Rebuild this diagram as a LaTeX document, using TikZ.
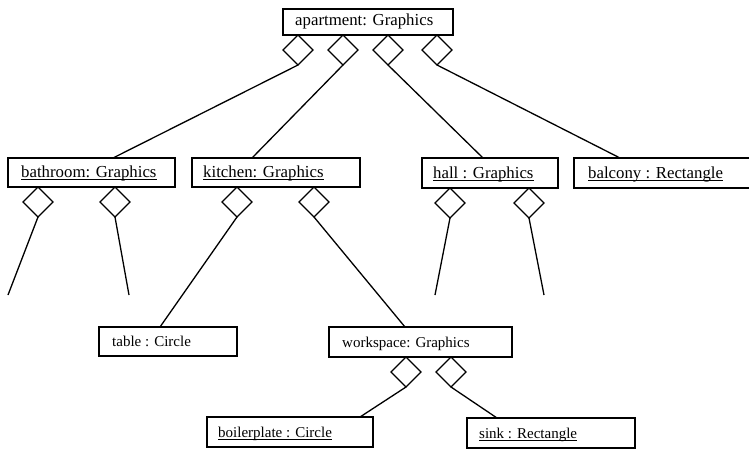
\documentclass[tikz,border=0pt]{standalone}
\usepackage{fontspec}
\setmainfont{Liberation Serif}
\usetikzlibrary{shapes.geometric}
\newcommand{\myul}[1]{\leavevmode\setbox0=\hbox{#1}\rlap{\copy0}\raisebox{-3.4pt}{\rule{\wd0}{1.2pt}}}
\tikzset{
  box/.style={draw, line width=1.3pt, rectangle, inner sep=0pt, outer sep=0pt},
  dia/.style={draw, line width=1.3pt, diamond, minimum width=30pt, minimum height=30pt, inner sep=0pt, outer sep=0pt, anchor=north},
  conn/.style={line width=1.3pt},
  big/.style={anchor=base west, inner sep=0pt, font=\fontsize{16.8}{20}\selectfont},
  small/.style={anchor=base west, inner sep=0pt, font=\fontsize{15}{18}\selectfont}
}
\begin{document}
\begin{tikzpicture}[x=1pt,y=-1pt]
\useasboundingbox (0,0) rectangle (749,450);
% boxes
\node[box, minimum width=170pt, minimum height=26pt] (ap) at (368,22) {};
\node[box, minimum width=167pt, minimum height=29pt] (bath) at (91.5,172.5) {};
\node[box, minimum width=168pt, minimum height=29pt] (kit) at (276,172.5) {};
\node[box, minimum width=136pt, minimum height=30pt] (hall) at (490,173) {};
\node[box, minimum width=178pt, minimum height=30pt] (balc) at (663,173) {};
\node[box, minimum width=138pt, minimum height=29pt] (table) at (168,341.5) {};
\node[box, minimum width=183pt, minimum height=30pt] (work) at (420.5,342) {};
\node[box, minimum width=166pt, minimum height=30pt] (boil) at (290,432) {};
\node[box, minimum width=168pt, minimum height=30pt] (sink) at (551,433) {};
% texts
\node[big] (apt) at ([shift={(12pt,10pt)}]ap.south west) {apartment: Graphics};
\node[big] (batht) at ([shift={(13pt,10pt)}]bath.south west) {\myul{bathroom: Graphics}};
\node[big] (kitt) at ([shift={(11pt,10pt)}]kit.south west) {\myul{kitchen: Graphics}};
\node[big] (hallt) at ([shift={(11pt,10pt)}]hall.south west) {\myul{hall : Graphics}};
\node[big] (balct) at ([shift={(14pt,10pt)}]balc.south west) {\myul{balcony : Rectangle}};
\node[small] (tablet) at ([shift={(13pt,10pt)}]table.south west) {table : Circle};
\node[small] (workt) at ([shift={(13pt,10pt)}]work.south west) {workspace: Graphics};
\node[small] (boilt) at ([shift={(11pt,10pt)}]boil.south west) {\myul{boilerplate : Circle}};
\node[small] (sinkt) at ([shift={(12pt,10pt)}]sink.south west) {\myul{sink : Rectangle}};
% diamonds
\node[dia] (a1) at (298,35) {};
\node[dia] (a2) at (343,35) {};
\node[dia] (a3) at (388,35) {};
\node[dia] (a4) at (437,35) {};
\node[dia] (b1) at (38,187) {};
\node[dia] (b2) at (115,187) {};
\node[dia] (k1) at (237,187) {};
\node[dia] (k2) at (314,187) {};
\node[dia] (h1) at (450,188) {};
\node[dia] (h2) at (529,188) {};
\node[dia] (w1) at (406,357) {};
\node[dia] (w2) at (451,357) {};
% free ends
\coordinate (e1) at (8,295);
\coordinate (e2) at (129,295);
\coordinate (e3) at (435,295);
\coordinate (e4) at (544,295);
% connectors
\draw[conn] (a1.south) -- ([xshift=105pt]bath.north west);
\draw[conn] (a2.south) -- ([xshift=60pt]kit.north west);
\draw[conn] (a3.south) -- ([xshift=61pt]hall.north west);
\draw[conn] (a4.south) -- ([xshift=46pt]balc.north west);
\draw[conn] (b1.south) -- (e1);
\draw[conn] (b2.south) -- (e2);
\draw[conn] (k1.south) -- ([xshift=61pt]table.north west);
\draw[conn] (k2.south) -- ([xshift=76pt]work.north west);
\draw[conn] (h1.south) -- (e3);
\draw[conn] (h2.south) -- (e4);
\draw[conn] (w1.south) -- ([xshift=153pt]boil.north west);
\draw[conn] (w2.south) -- ([xshift=30pt]sink.north west);
\end{tikzpicture}
\end{document}
